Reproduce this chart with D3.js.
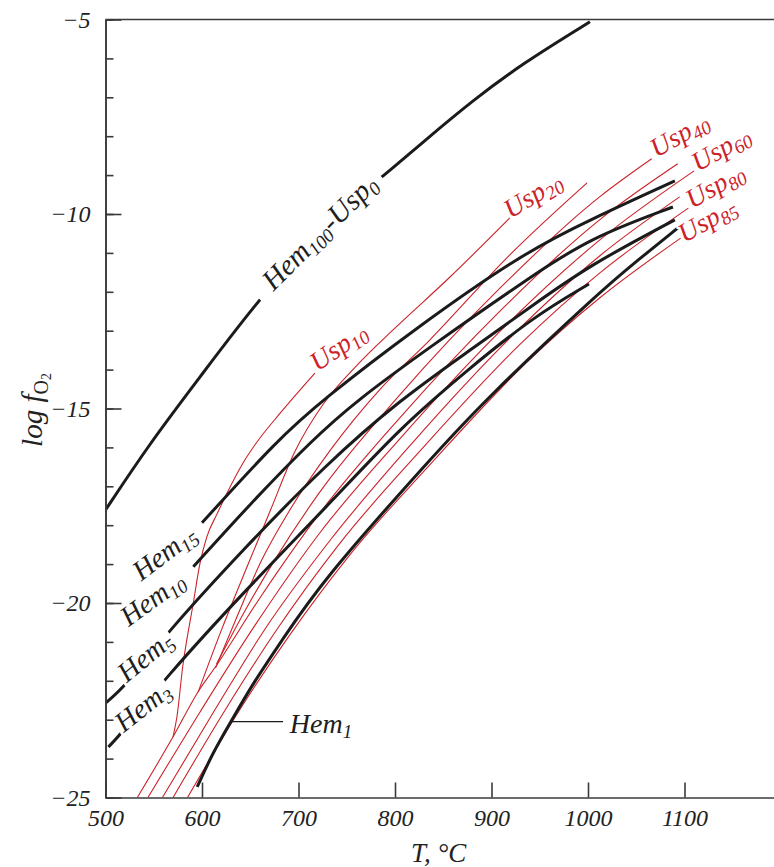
<!DOCTYPE html>
<html>
<head>
<meta charset="utf-8">
<script src="https://cdn.jsdelivr.net/npm/d3@7"></script>
<style>
  body { margin: 0; background: #fff; }
  svg { display: block; }
  text { font-family: "Liberation Serif", "DejaVu Serif", serif; }
</style>
</head>
<body>
<div id="chart"></div>
<script>
// T (°C), log fO2 pairs
const hem100 = [[500,-17.61],[546,-15.89],[598,-14.19],[650,-12.47],[725,-10.30],[793,-8.92],[829,-8.15],[881,-7.07],[933,-6.12],[1002,-5.06]];
const hem15 = [[600,-17.94],[678,-15.81],[725,-14.78],[819,-12.98],[933,-11.00],[1002,-10.15],[1090,-9.15]];
const hem10 = [[591,-19.07],[650,-17.45],[714,-15.81],[761,-14.78],[836,-13.42],[943,-11.57],[1002,-10.62],[1088,-9.82]];
const hem5 = [[500,-22.57],[520,-22.16],[564,-20.75],[645,-18.56],[728,-16.45],[805,-14.78],[875,-13.55],[943,-12.34],[1002,-11.31],[1090,-10.15]];
const hem3 = [[503,-23.70],[517,-23.34],[560,-21.98],[645,-19.67],[733,-17.43],[805,-15.50],[875,-14.01],[943,-12.65],[1001,-11.80]];
const hem1 = [[595,-24.73],[611,-23.86],[629,-23.09],[653,-22.06],[681,-21.03],[725,-19.41],[836,-16.32],[891,-14.83],[1012,-12.00],[1052,-11.18],[1093,-10.36]];

const usp10 = [[570,-23.44],[574,-22.93],[580,-21.64],[591,-20.00],[598,-18.97],[605,-18.30],[616,-17.69],[626,-17.17],[643,-16.38],[657,-15.86],[681,-15.12],[717,-14.09]];
const usp20 = [[596,-22.29],[621,-20.64],[647,-19.05],[671,-17.61],[696,-16.12],[725,-14.91],[761,-13.88],[798,-12.98],[857,-11.62],[919,-10.10]];
const usp30 = [[614,-21.67],[637,-20.31],[662,-18.89],[691,-17.61],[733,-16.07],[784,-14.52],[836,-13.24],[919,-11.05],[999,-9.20]];
const usp40 = [[615,-21.57],[645,-20.18],[674,-18.95],[722,-17.15],[805,-14.65],[909,-11.90],[1012,-9.56],[1066,-8.58]];
const usp50 = [[533,-25.0],[570,-23.44],[596,-22.28],[614,-21.64],[660,-19.87],[722,-17.69],[805,-15.24],[909,-12.49],[1012,-10.15],[1093,-8.71]];
const usp60 = [[544,-25.0],[598,-22.80],[655,-20.57],[722,-18.20],[805,-15.78],[909,-13.01],[1012,-10.67],[1110,-8.89]];
const usp70 = [[559,-25.0],[614,-22.72],[665,-20.68],[733,-18.38],[816,-15.94],[919,-13.19],[1012,-11.08],[1095,-9.56]];
const usp80 = [[570,-25.0],[624,-22.75],[676,-20.74],[743,-18.46],[826,-16.09],[930,-13.34],[1012,-11.52],[1104,-9.85]];
const usp85 = [[585,-25.0],[639,-22.75],[691,-20.82],[753,-18.77],[836,-16.45],[937,-13.80],[1012,-12.16],[1096,-10.62]];

const xTicks = [500, 600, 700, 800, 900, 1000, 1100];
const yTicks = [-25, -20, -15, -10, -5];

const W = 774, H = 867;
const black = "#1b1b1b";
const red = "#cc2229";
const axisColor = "#3a3a3a";

const svg = d3.select("#chart").append("svg").attr("width", W).attr("height", H);
const defs = svg.append("defs");

const x = d3.scaleLinear().domain([500, 1200]).range([105.5, 781]);
const y = d3.scaleLinear().domain([-25, -5]).range([797.5, 19.5]);

defs.append("clipPath").attr("id", "plot")
  .append("rect")
  .attr("x", x(500)).attr("y", y(-5))
  .attr("width", x(1200) - x(500)).attr("height", y(-25) - y(-5));

// smooth hand-read black curves, keep the red ones closer to the points
const hemLine = d3.line()
  .x((d) => x(d[0]))
  .y((d) => y(d[1]))
  .curve(d3.curveBasis);
const uspLine = d3.line()
  .x((d) => x(d[0]))
  .y((d) => y(d[1]))
  .curve(d3.curveMonotoneX);

// curves
const curves = svg.append("g").attr("clip-path", "url(#plot)");

const redSeries = [usp10, usp20, usp30, usp40, usp50, usp60, usp70, usp80, usp85];
curves.selectAll("path.usp")
  .data(redSeries)
  .enter()
  .append("path")
  .attr("class", "usp")
  .attr("d", uspLine)
  .attr("fill", "none")
  .attr("stroke", red)
  .attr("stroke-width", 1.1);

const blackSeries = [
  { key: "hem100", values: hem100 },
  { key: "hem15", values: hem15 },
  { key: "hem10", values: hem10 },
  { key: "hem5", values: hem5 },
  { key: "hem3", values: hem3 },
  { key: "hem1", values: hem1 },
];
curves.selectAll("path.hem")
  .data(blackSeries)
  .enter()
  .append("path")
  .attr("class", "hem")
  .attr("id", (d) => "c-" + d.key)
  .attr("d", (d) => hemLine(d.values))
  .attr("fill", "none")
  .attr("stroke", black)
  .attr("stroke-width", 3)
  .attr("stroke-linecap", "butt");

// axes
const yMinor = d3.axisLeft(y).tickValues(d3.range(-25, -4, 1))
  .tickSizeInner(-8).tickSizeOuter(0).tickFormat("");
const yMajor = d3.axisLeft(y).tickValues(yTicks)
  .tickSizeInner(-16).tickSizeOuter(0).tickPadding(15)
  .tickFormat((d) => "\u2212" + Math.abs(d));
const xAxis = d3.axisBottom(x).tickValues(xTicks)
  .tickSizeInner(-15).tickSizeOuter(0).tickPadding(11)
  .tickFormat(d3.format("d"));

const gyMinor = svg.append("g").attr("transform", `translate(${x(500)},0)`).call(yMinor);
const gyMajor = svg.append("g").attr("transform", `translate(${x(500)},0)`).call(yMajor);
const gx = svg.append("g").attr("transform", `translate(0,${y(-25)})`).call(xAxis);

[gyMinor, gyMajor, gx].forEach((g) => {
  g.attr("font-size", null).attr("font-family", null);
  g.selectAll("path, line").attr("stroke", axisColor).attr("stroke-width", 1.6);
  g.selectAll("text")
    .attr("fill", "#222")
    .style("font-size", "24px")
    .style("font-style", "italic");
});

// top frame line
svg.append("line")
  .attr("x1", x(500)).attr("x2", x(1200))
  .attr("y1", y(-5)).attr("y2", y(-5))
  .attr("stroke", axisColor).attr("stroke-width", 1.6);

// axis titles
svg.append("text")
  .attr("x", 411).attr("y", 862)
  .style("font-size", "27px").style("font-style", "italic")
  .attr("fill", "#222")
  .text("T, \u00b0C");

const yTitle = svg.append("text")
  .attr("transform", "translate(42,410) rotate(-90)")
  .attr("text-anchor", "middle")
  .attr("fill", "#222")
  .style("font-size", "29px");
yTitle.append("tspan").style("font-style", "italic").text("log f");
yTitle.append("tspan").style("font-size", "20px").attr("dy", 6).text("O");
yTitle.append("tspan").style("font-size", "14px").attr("dy", 3).text("2");

// curve labels: anchor in data units, angle in degrees
const hemLabels = [
  { key: "hem100", parts: [["Hem"], ["100", 1], ["-Usp"], ["0", 1]], at: [674, -12.0], angle: -45, pad: [14, 8] },
  { key: "hem15", parts: [["Hem"], ["15", 1]], at: [537, -19.45], angle: -37 },
  { key: "hem10", parts: [["Hem"], ["10", 1]], at: [524, -20.62], angle: -36 },
  { key: "hem5", parts: [["Hem"], ["5", 1]], at: [522, -22.06], angle: -39, pad: [2, 2] },
  { key: "hem3", parts: [["Hem"], ["3", 1]], at: [519, -23.34], angle: -38, pad: [2, 2] },
  { key: "hem1", parts: [["Hem"], ["1", 1]], at: [691, -23.34], angle: 0 },
];
const uspLabels = [
  { parts: [["Usp"], ["10", 1]], at: [720, -14.06], angle: -35 },
  { parts: [["Usp"], ["20", 1]], at: [920, -10.13], angle: -32 },
  { parts: [["Usp"], ["40", 1]], at: [1071, -8.56], angle: -30 },
  { parts: [["Usp"], ["60", 1]], at: [1114, -8.92], angle: -30 },
  { parts: [["Usp"], ["80", 1]], at: [1108, -9.87], angle: -30 },
  { parts: [["Usp"], ["85", 1]], at: [1100, -10.75], angle: -30 },
];

const labelLayer = svg.append("g");

function addLabel(a, color, size, subSize) {
  const g = labelLayer.append("g")
    .attr("transform", `translate(${x(a.at[0])},${y(a.at[1])}) rotate(${a.angle})`);
  const t = g.append("text")
    .attr("fill", color)
    .style("font-size", size + "px")
    .style("font-style", "italic")
    .attr("stroke", "#fff")
    .attr("stroke-width", 4)
    .attr("stroke-linejoin", "round")
    .attr("paint-order", "stroke");
  let low = false;
  a.parts.forEach(([s, sub]) => {
    const ts = t.append("tspan").text(s);
    if (sub) {
      ts.style("font-size", subSize + "px");
      if (!low) { ts.attr("dy", 5); low = true; }
    } else if (low) {
      ts.attr("dy", -5);
      low = false;
    }
  });
  return g;
}

uspLabels.forEach((a) => addLabel(a, red, 27, 19));
hemLabels.forEach((a) => {
  const g = addLabel(a, "#1e1e1e", a.key === "hem100" ? 29 : 28, 19);
  if (!a.pad) return;
  // cut the curve where its label sits on it
  const b = g.select("text").node().getBBox();
  const m = defs.append("mask").attr("id", "m-" + a.key)
    .attr("maskUnits", "userSpaceOnUse")
    .attr("x", 0).attr("y", 0).attr("width", W).attr("height", H);
  m.append("rect").attr("width", W).attr("height", H).attr("fill", "#fff");
  m.append("rect")
    .attr("transform", g.attr("transform"))
    .attr("x", b.x - a.pad[0]).attr("y", b.y - 3)
    .attr("width", b.width + a.pad[0] + a.pad[1])
    .attr("height", b.height + 6)
    .attr("fill", "#000");
  d3.select("#c-" + a.key).attr("mask", `url(#m-${a.key})`);
});

// leader for Hem1
svg.append("line")
  .attr("x1", x(631)).attr("x2", x(684))
  .attr("y1", y(-23.05)).attr("y2", y(-23.05))
  .attr("stroke", black).attr("stroke-width", 1.3);
</script>
</body>
</html>
